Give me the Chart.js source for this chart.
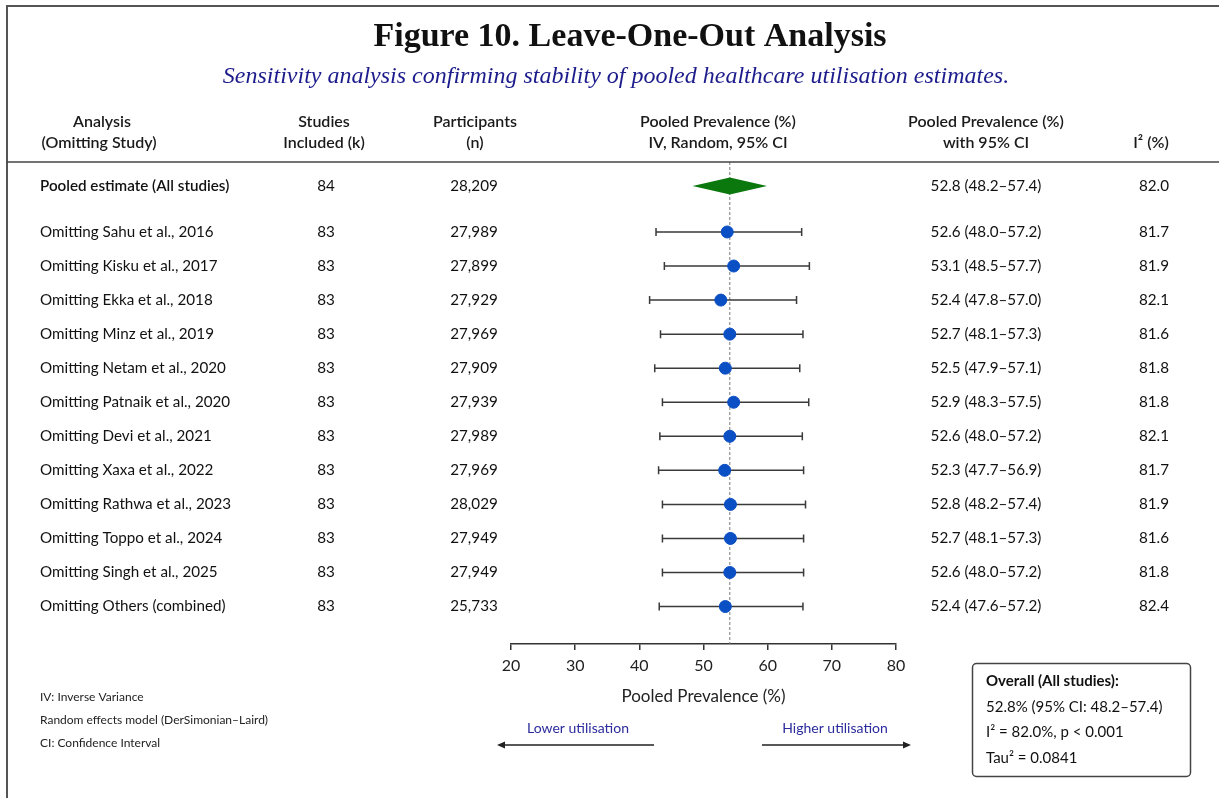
<!DOCTYPE html>
<html>
<head>
<meta charset="utf-8">
<script src="https://cdn.jsdelivr.net/npm/chart.js@4.4.1/dist/chart.umd.min.js"></script>
<style>
  html, body { margin: 0; padding: 0; background: #ffffff; }
  #wrap { position: relative; width: 1219px; height: 798px; }
</style>
</head>
<body>
<div id="wrap"><canvas id="forest" width="1219" height="798"></canvas></div>
<script>
// Row labels and table columns
const analyses = [
  "Pooled estimate (All studies)",
  "Omitting Sahu et al., 2016",
  "Omitting Kisku et al., 2017",
  "Omitting Ekka et al., 2018",
  "Omitting Minz et al., 2019",
  "Omitting Netam et al., 2020",
  "Omitting Patnaik et al., 2020",
  "Omitting Devi et al., 2021",
  "Omitting Xaxa et al., 2022",
  "Omitting Rathwa et al., 2023",
  "Omitting Toppo et al., 2024",
  "Omitting Singh et al., 2025",
  "Omitting Others (combined)"
];
const studiesIncluded = ["84", "83", "83", "83", "83", "83", "83", "83", "83", "83", "83", "83", "83"];
const participants = ["28,209", "27,989", "27,899", "27,929", "27,969", "27,909", "27,939",
  "27,989", "27,969", "28,029", "27,949", "27,949", "25,733"];
const ciLabels = ["52.8 (48.2–57.4)", "52.6 (48.0–57.2)", "53.1 (48.5–57.7)", "52.4 (47.8–57.0)",
  "52.7 (48.1–57.3)", "52.5 (47.9–57.1)", "52.9 (48.3–57.5)", "52.6 (48.0–57.2)",
  "52.3 (47.7–56.9)", "52.8 (48.2–57.4)", "52.7 (48.1–57.3)", "52.6 (48.0–57.2)",
  "52.4 (47.6–57.2)"];
const i2Values = ["82.0", "81.7", "81.9", "82.1", "81.6", "81.8", "81.8", "82.1", "81.7", "81.9", "81.6", "81.8", "82.4"];

// Plotted estimates as drawn in the figure (first entry = pooled diamond)
const plotPoint = [54.1, 53.7, 54.7, 52.7, 54.1, 53.4, 54.7, 54.1, 53.3, 54.2, 54.2, 54.1, 53.4];
const plotLow = [48.3, 42.6, 43.9, 41.6, 43.3, 42.4, 43.6, 43.2, 43.0, 43.6, 43.6, 43.6, 43.1];
const plotHigh = [59.9, 65.3, 66.5, 64.5, 65.5, 65.0, 66.4, 65.4, 65.6, 65.9, 65.6, 65.6, 65.5];
const pooledLine = 54.1;

// Axis
const xMin = 20;
const xMax = 80;
const xStep = 10;

const BODY = "Lato, 'Open Sans', sans-serif";

// pooled row sits a bit higher than the study rows
function rowPos(i) {
  return i === 0 ? 0 : i + 0.35;
}

const points = [];
for (let i = 1; i < analyses.length; i++) {
  points.push({ x: plotPoint[i], y: rowPos(i) });
}

function text(ctx, str, x, y, font, color, align) {
  ctx.font = font;
  ctx.fillStyle = color;
  ctx.textAlign = align || "left";
  ctx.textBaseline = "middle";
  ctx.fillText(str, x, y);
}

const forestPlugin = {
  id: "forest",
  beforeDatasetsDraw(chart) {
    const ctx = chart.ctx;
    const x = chart.scales.x;
    const y = chart.scales.y;
    const area = chart.chartArea;
    ctx.save();

    // reference line
    ctx.strokeStyle = "#7a7a7a";
    ctx.lineWidth = 1;
    ctx.setLineDash([3, 2]);
    ctx.beginPath();
    ctx.moveTo(x.getPixelForValue(pooledLine), area.top);
    ctx.lineTo(x.getPixelForValue(pooledLine), area.bottom);
    ctx.stroke();
    ctx.setLineDash([]);

    // confidence intervals
    ctx.strokeStyle = "#3a3a3a";
    ctx.lineWidth = 1.5;
    for (let i = 1; i < analyses.length; i++) {
      const py = y.getPixelForValue(rowPos(i));
      const x0 = x.getPixelForValue(plotLow[i]);
      const x1 = x.getPixelForValue(plotHigh[i]);
      ctx.beginPath();
      ctx.moveTo(x0, py);
      ctx.lineTo(x1, py);
      ctx.moveTo(x0, py - 4);
      ctx.lineTo(x0, py + 4);
      ctx.moveTo(x1, py - 4);
      ctx.lineTo(x1, py + 4);
      ctx.stroke();
    }

    // pooled diamond
    const dy = y.getPixelForValue(rowPos(0));
    ctx.fillStyle = "#0a780c";
    ctx.beginPath();
    ctx.moveTo(x.getPixelForValue(plotLow[0]), dy);
    ctx.lineTo(x.getPixelForValue(plotPoint[0]), dy - 8.5);
    ctx.lineTo(x.getPixelForValue(plotHigh[0]), dy);
    ctx.lineTo(x.getPixelForValue(plotPoint[0]), dy + 8.5);
    ctx.closePath();
    ctx.fill();
    ctx.restore();
  },
  afterDraw(chart) {
    const ctx = chart.ctx;
    const y = chart.scales.y;
    ctx.save();

    // page frame
    ctx.strokeStyle = "#555";
    ctx.lineWidth = 2;
    ctx.beginPath();
    ctx.moveTo(7, 798);
    ctx.lineTo(7, 6);
    ctx.lineTo(1219, 6);
    ctx.stroke();

    // titles
    text(ctx, "Figure 10. Leave-One-Out Analysis", 630, 37, "bold 34px 'Liberation Serif', serif", "#111", "center");
    text(ctx, "Sensitivity analysis confirming stability of pooled healthcare utilisation estimates.", 616, 77,
      "italic 24px 'Liberation Serif', serif", "#1c1c8c", "center");

    // column headers
    const hf = "600 16px " + BODY;
    const hc = "#1a1a1a";
    text(ctx, "Analysis", 102, 122, hf, hc, "center");
    text(ctx, "(Omitting Study)", 99, 143, hf, hc, "center");
    text(ctx, "Studies", 324, 122, hf, hc, "center");
    text(ctx, "Included (k)", 324, 143, hf, hc, "center");
    text(ctx, "Participants", 475, 122, hf, hc, "center");
    text(ctx, "(n)", 475, 143, hf, hc, "center");
    text(ctx, "Pooled Prevalence (%)", 718, 122, hf, hc, "center");
    text(ctx, "IV, Random, 95% CI", 718, 143, hf, hc, "center");
    text(ctx, "Pooled Prevalence (%)", 986, 122, hf, hc, "center");
    text(ctx, "with 95% CI", 986, 143, hf, hc, "center");
    text(ctx, "I² (%)", 1151, 143, hf, hc, "center");

    ctx.strokeStyle = "#444";
    ctx.lineWidth = 1.5;
    ctx.beginPath();
    ctx.moveTo(7, 162);
    ctx.lineTo(1219, 162);
    ctx.stroke();

    // table rows
    const rf = "15.2px " + BODY;
    for (let i = 0; i < analyses.length; i++) {
      const py = y.getPixelForValue(rowPos(i));
      text(ctx, analyses[i], 40, py, (i === 0 ? "600 " : "") + rf, "#111");
      text(ctx, studiesIncluded[i], 326, py, rf, "#111", "center");
      text(ctx, participants[i], 474, py, rf, "#111", "center");
      text(ctx, ciLabels[i], 986, py, rf, "#111", "center");
      text(ctx, i2Values[i], 1154, py, rf, "#111", "center");
    }

    // direction arrows
    text(ctx, "Lower utilisation", 578, 728, "14px " + BODY, "#2b2b9c", "center");
    text(ctx, "Higher utilisation", 835, 728, "14px " + BODY, "#2b2b9c", "center");
    ctx.strokeStyle = "#222";
    ctx.fillStyle = "#222";
    ctx.lineWidth = 1.5;
    ctx.beginPath();
    ctx.moveTo(654, 745);
    ctx.lineTo(502, 745);
    ctx.moveTo(762, 745);
    ctx.lineTo(906, 745);
    ctx.stroke();
    ctx.beginPath();
    ctx.moveTo(497, 745);
    ctx.lineTo(505, 741.5);
    ctx.lineTo(505, 748.5);
    ctx.closePath();
    ctx.moveTo(911, 745);
    ctx.lineTo(903, 741.5);
    ctx.lineTo(903, 748.5);
    ctx.closePath();
    ctx.fill();

    // footnotes
    const nf = "12px " + BODY;
    text(ctx, "IV: Inverse Variance", 40, 697, nf, "#222");
    text(ctx, "Random effects model (DerSimonian–Laird)", 40, 720, nf, "#222");
    text(ctx, "CI: Confidence Interval", 40, 743, nf, "#222");

    // summary box
    ctx.strokeStyle = "#444";
    ctx.lineWidth = 1.5;
    ctx.beginPath();
    ctx.roundRect(972.5, 663.5, 218, 113, 4);
    ctx.stroke();
    const bf = "15px " + BODY;
    text(ctx, "Overall (All studies):", 986, 681, "bold " + bf, "#111");
    text(ctx, "52.8% (95% CI: 48.2–57.4)", 986, 707, bf, "#111");
    text(ctx, "I² = 82.0%, p < 0.001", 986, 732, bf, "#111");
    text(ctx, "Tau² = 0.0841", 986, 758, bf, "#111");
    ctx.restore();
  }
};

new Chart(document.getElementById("forest"), {
  type: "scatter",
  data: {
    datasets: [
      {
        label: "Leave-one-out estimate",
        data: points,
        backgroundColor: "#0b4fc4",
        borderColor: "#0b4fc4",
        pointRadius: 6,
        pointHoverRadius: 6,
      },
    ],
  },
  options: {
    responsive: false,
    animation: false,
    events: [],
    layout: {
      padding: { left: 511, right: 323, top: 162, bottom: 90 },
    },
    plugins: {
      legend: { display: false },
      tooltip: { enabled: false },
    },
    scales: {
      x: {
        type: "linear",
        min: xMin,
        max: xMax,
        afterFit(scale) {
          scale.height = 64;
        },
        ticks: {
          stepSize: xStep,
          padding: 6,
          color: "#222",
          font: { family: BODY, size: 16 },
        },
        grid: {
          display: true,
          drawOnChartArea: false,
          drawTicks: true,
          tickLength: 6,
          color: "#333",
          lineWidth: 1.5,
        },
        border: { display: true, color: "#333", width: 1.5 },
        title: {
          display: true,
          text: "Pooled Prevalence (%)",
          color: "#222",
          font: { family: BODY, size: 17 },
          padding: { top: 0, bottom: 1 },
        },
      },
      y: {
        type: "linear",
        display: false,
        reverse: true,
        min: -0.705,
        max: 13.45,
      },
    },
  },
  plugins: [forestPlugin],
});
</script>
</body>
</html>
